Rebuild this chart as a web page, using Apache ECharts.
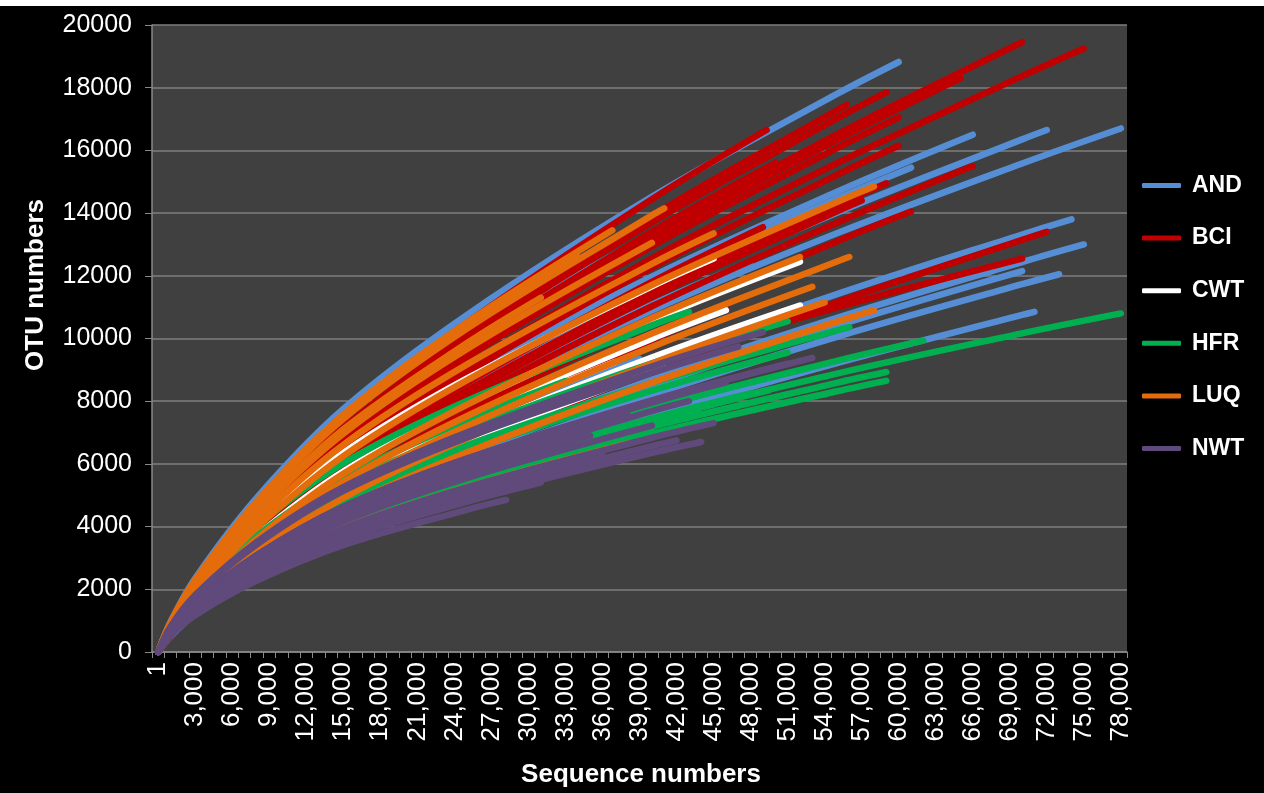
<!DOCTYPE html>
<html>
<head>
<meta charset="utf-8">
<script src="https://cdn.jsdelivr.net/npm/echarts@6/dist/echarts.min.js"></script>
<style>
  html, body { margin: 0; padding: 0; background: #000; }
  #chart { width: 1264px; height: 793px; }
</style>
</head>
<body>
<div id="chart"></div>
<script>
// Rarefaction curves: OTU numbers against sequence numbers, one line per sample.
// Each curve lists OTU values at the shared sampling depths below its own end depth,
// followed by the OTU value at its end depth.
const DEPTHS = [1, 1000, 3000, 8000, 15000, 25000, 40000, 55000, 70000];

const AND = [
  { end: 60000, otu: [1, 959, 2352, 4924, 7750, 10746, 14518, 17800, 18820] },
  { end: 78000, otu: [1, 719, 1765, 3694, 5813, 8063, 10892, 13355, 15583, 16700] },
  { end: 72000, otu: [1, 755, 1851, 3875, 6100, 8462, 11430, 14013, 16352, 16650] },
  { end: 66000, otu: [1, 791, 1940, 4061, 6392, 8865, 11976, 14682, 16500] },
  { end: 61000, otu: [1, 778, 1911, 4000, 6296, 8729, 11793, 14460, 15450] },
  { end: 74000, otu: [1, 615, 1509, 3157, 4969, 6890, 9309, 11413, 13317, 13800] },
  { end: 75000, otu: [1, 574, 1408, 2948, 4641, 6435, 8694, 10660, 12438, 13000] },
  { end: 73000, otu: [1, 542, 1329, 2781, 4377, 6070, 8200, 10053, 11731, 12050] },
  { end: 70000, otu: [1, 561, 1375, 2880, 4533, 6286, 8493, 10411, 12150] },
  { end: 71000, otu: [1, 496, 1217, 2549, 4012, 5563, 7516, 9214, 10751, 10850] },
  { end: 48000, otu: [1, 732, 1795, 3757, 5914, 8201, 11079, 12450] },
  { end: 57000, otu: [1, 882, 2162, 4529, 7127, 9884, 13353, 16371, 16750] },
  { end: 39000, otu: [1, 628, 1539, 3222, 5072, 7034, 9350] }
];

const BCI = [
  { end: 70000, otu: [1, 757, 1941, 4228, 6823, 9659, 13294, 16507, 19450] },
  { end: 75000, otu: [1, 715, 1833, 3992, 6443, 9121, 12555, 15591, 18368, 19250] },
  { end: 65000, otu: [1, 749, 1921, 4183, 6751, 9556, 13154, 16335, 18300] },
  { end: 66000, otu: [1, 628, 1610, 3506, 5659, 8010, 11027, 13693, 15500] },
  { end: 61000, otu: [1, 601, 1539, 3353, 5412, 7660, 10545, 13095, 14050] },
  { end: 72000, otu: [1, 512, 1312, 2857, 4612, 6527, 8985, 11157, 13145, 13400] },
  { end: 70000, otu: [1, 850, 1887, 3616, 5379, 7123, 9226, 10990, 12550] },
  { end: 49300, otu: [1, 823, 2109, 4593, 7414, 10493, 14444, 16650] },
  { end: 59000, otu: [1, 781, 2001, 4358, 7035, 9957, 13705, 17018, 17850] },
  { end: 55800, otu: [1, 793, 2032, 4424, 7142, 10109, 13915, 17279, 17450] },
  { end: 60000, otu: [1, 738, 1890, 4116, 6643, 9401, 12941, 16070, 17050] },
  { end: 60000, otu: [1, 699, 1790, 3899, 6292, 8905, 12258, 15221, 16150] },
  { end: 59000, otu: [1, 654, 1676, 3650, 5892, 8339, 11479, 14253, 14950] },
  { end: 57000, otu: [1, 645, 1652, 3600, 5809, 8221, 11318, 14054, 14400] },
  { end: 49000, otu: [1, 673, 1724, 3753, 6058, 8574, 11803, 13550] },
  { end: 46000, otu: [1, 567, 1454, 3166, 5111, 7234, 9958, 10950] },
  { end: 50000, otu: [1, 763, 1957, 4262, 6880, 9738, 13404, 15600] }
];

const CWT = [
  { end: 45000, otu: [1, 829, 1991, 4086, 6352, 8717, 11666, 12550] },
  { end: 52000, otu: [1, 752, 1805, 3706, 5761, 7907, 10581, 12450] },
  { end: 52000, otu: [1, 668, 1602, 3289, 5113, 7018, 9391, 11050] },
  { end: 46000, otu: [1, 711, 1705, 3501, 5441, 7469, 9995, 10900] },
  { end: 41000, otu: [1, 637, 1528, 3139, 4879, 6697, 8962, 9100] },
  { end: 37000, otu: [1, 690, 1656, 3400, 5285, 7255, 9250] }
];

const HFR = [
  { end: 78000, otu: [1, 659, 1481, 2867, 4291, 5711, 7430, 8881, 10165, 10800] },
  { end: 62000, otu: [1, 689, 1548, 2997, 4486, 5971, 7769, 9286, 9930] },
  { end: 59000, otu: [1, 637, 1431, 2771, 4148, 5521, 7183, 8586, 8930] },
  { end: 59000, otu: [1, 617, 1387, 2685, 4018, 5348, 6958, 8317, 8650] },
  { end: 56000, otu: [1, 761, 1710, 3310, 4954, 6595, 8581, 10256, 10360] },
  { end: 51000, otu: [1, 817, 1835, 3552, 5317, 7078, 9208, 10550] },
  { end: 51000, otu: [1, 739, 1661, 3215, 4813, 6407, 8335, 9550] },
  { end: 43000, otu: [1, 924, 2076, 4019, 6016, 8007, 10419, 10850] },
  { end: 33000, otu: [1, 853, 1918, 3712, 5556, 7396, 8640] },
  { end: 48000, otu: [1, 661, 1485, 2873, 4301, 5726, 7449, 8250] },
  { end: 40000, otu: [1, 634, 1425, 2758, 4128, 5495, 7150] },
  { end: 49500, otu: [1, 657, 1477, 2858, 4279, 5696, 7411, 8350] },
  { end: 45000, otu: [1, 656, 1474, 2853, 4270, 5684, 7395, 7900] },
  { end: 47000, otu: [1, 657, 1475, 2855, 4274, 5688, 7401, 8100] },
  { end: 44000, otu: [1, 639, 1435, 2780, 4160, 5537, 7205, 7600] }
];

const LUQ = [
  { end: 36800, otu: [1, 937, 2298, 4812, 7574, 10502, 13450] },
  { end: 41000, otu: [1, 920, 2256, 4724, 7434, 10310, 13928, 14150] },
  { end: 45000, otu: [1, 818, 2005, 4198, 6608, 9165, 12381, 13350] },
  { end: 40000, otu: [1, 862, 2114, 4426, 6966, 9660, 13050] },
  { end: 58000, otu: [1, 773, 1896, 3971, 6249, 8666, 11708, 14354, 14850] },
  { end: 56000, otu: [1, 671, 1646, 3445, 5423, 7520, 10158, 12455, 12600] },
  { end: 52000, otu: [1, 704, 1725, 3613, 5686, 7885, 10653, 12600] },
  { end: 53000, otu: [1, 643, 1576, 3299, 5194, 7202, 9730, 11650] },
  { end: 54000, otu: [1, 607, 1490, 3121, 4912, 6811, 9201, 11150] },
  { end: 58000, otu: [1, 568, 1392, 2915, 4587, 6361, 8594, 10536, 10900] },
  { end: 38000, otu: [1, 607, 1364, 2640, 3951, 5260, 6650] },
  { end: 34000, otu: [1, 923, 2265, 4741, 7463, 10350, 12600] },
  { end: 31000, otu: [1, 878, 2155, 4511, 7101, 9847, 11300] }
];

const NWT = [
  { end: 28200, otu: [1, 523, 1175, 2275, 3406, 4534, 4850] },
  { end: 44000, otu: [1, 564, 1265, 2451, 3668, 4882, 6352, 6700] },
  { end: 42000, otu: [1, 583, 1309, 2534, 3792, 5048, 6568, 6750] },
  { end: 40000, otu: [1, 640, 1438, 2785, 4169, 5549, 7220] },
  { end: 53000, otu: [1, 710, 1597, 3090, 4626, 6158, 8012, 9380] },
  { end: 49000, otu: [1, 808, 1815, 3511, 5257, 6998, 9105, 10200] },
  { end: 47000, otu: [1, 790, 1773, 3433, 5139, 6839, 8899, 9740] },
  { end: 51000, otu: [1, 712, 1600, 3098, 4637, 6172, 8030, 9200] },
  { end: 36000, otu: [1, 593, 1332, 2577, 3859, 5136, 6300] },
  { end: 33000, otu: [1, 583, 1309, 2535, 3794, 5050, 5900] },
  { end: 31000, otu: [1, 552, 1241, 2402, 3596, 4787, 5400] },
  { end: 46000, otu: [1, 705, 1585, 3068, 4592, 6113, 7953, 8600] },
  { end: 38000, otu: [1, 694, 1559, 3017, 4516, 6012, 7600] },
  { end: 43000, otu: [1, 682, 1531, 2963, 4436, 5904, 7682, 8000] },
  { end: 45000, otu: [1, 606, 1362, 2636, 3946, 5252, 6834, 7300] },
  { end: 35000, otu: [1, 660, 1481, 2868, 4293, 5715, 6900] }
];

const SITE_NAMES = ['AND', 'BCI', 'CWT', 'HFR', 'LUQ', 'NWT'];
const SITE_CURVES = [AND, BCI, CWT, HFR, LUQ, NWT];
const SITE_COLORS = ['#558ED5', '#C00000', '#FFFFFF', '#00B050', '#E46C0A', '#604A7B'];

// Category labels of the sequence axis: 1, 1,000, 2,000 ... 78,000
const SEQ_CATEGORIES = [1];
for (let k = 1; k <= 78; k++) SEQ_CATEGORIES.push(k * 1000);

const FONT = '"Liberation Sans", Arial, Helvetica, sans-serif';

function curvePoints(curve) {
  const pts = [];
  let i = 0;
  for (const d of DEPTHS) {
    if (d < curve.end) { pts.push([d, curve.otu[i]]); i++; }
  }
  pts.push([curve.end, curve.otu[i]]);
  return pts;
}

const series = [];
SITE_NAMES.forEach((name, s) => {
  SITE_CURVES[s].forEach(curve => {
    series.push({
      type: 'line',
      name: name,
      xAxisIndex: 1,
      yAxisIndex: 0,
      data: curvePoints(curve),
      smooth: 0.35,
      showSymbol: false,
      symbol: 'none',
      silent: true,
      itemStyle: { color: SITE_COLORS[s] },
      lineStyle: { color: SITE_COLORS[s], width: 6.5, cap: 'round', join: 'round' }
    });
  });
});

const chart = echarts.init(document.getElementById('chart'), null, { renderer: 'canvas' });
chart.setOption({
  backgroundColor: '#000000',
  animation: false,
  grid: {
    left: 152, right: 137, top: 25, bottom: 141,
    show: true, backgroundColor: '#404040', borderWidth: 0
  },
  xAxis: [
    {
      type: 'category',
      data: SEQ_CATEGORIES,
      boundaryGap: true,
      axisLine: { lineStyle: { color: '#8a8a8a', width: 1.5 } },
      axisTick: { show: true, interval: 0, length: 6, lineStyle: { color: '#8a8a8a', width: 1 } },
      axisLabel: {
        interval: 2, rotate: 90, margin: 10,
        color: '#ffffff', fontSize: 26, fontFamily: FONT,
        formatter: v => Number(v).toLocaleString('en-US')
      },
      splitLine: { show: false }
    },
    { type: 'value', min: -500, max: 78500, show: false }
  ],
  yAxis: {
    type: 'value',
    min: 0, max: 20000, interval: 2000,
    axisLine: { show: true, onZero: false, lineStyle: { color: '#8a8a8a', width: 1.5 } },
    axisTick: { show: true, length: 7, lineStyle: { color: '#8a8a8a' } },
    axisLabel: { color: '#ffffff', fontSize: 25, fontFamily: FONT, margin: 20, formatter: v => String(v) },
    splitLine: { show: true, lineStyle: { color: '#7e7e7e', width: 1.5 } }
  },
  legend: {
    data: SITE_NAMES,
    orient: 'vertical',
    left: 1142, top: 174, padding: 0,
    icon: 'roundRect',
    itemWidth: 39, itemHeight: 5, itemGap: 29.6,
    selectedMode: false,
    textStyle: { color: '#ffffff', fontSize: 23, fontWeight: 'bold', fontFamily: FONT, lineHeight: 22, padding: [0, 0, 0, 6] }
  },
  graphic: [
    { type: 'rect', left: 0, top: 0, shape: { width: 1264, height: 6 }, style: { fill: '#ffffff' }, silent: true },
    {
      type: 'text', x: 36, y: 285, rotation: Math.PI / 2,
      style: { text: 'OTU numbers', fill: '#ffffff', font: 'bold 26px ' + FONT, textAlign: 'center', textVerticalAlign: 'middle' },
      silent: true
    },
    {
      type: 'text', x: 641, y: 775,
      style: { text: 'Sequence numbers', fill: '#ffffff', font: 'bold 26px ' + FONT, textAlign: 'center', textVerticalAlign: 'middle' },
      silent: true
    }
  ],
  series: series
});
</script>
</body>
</html>
